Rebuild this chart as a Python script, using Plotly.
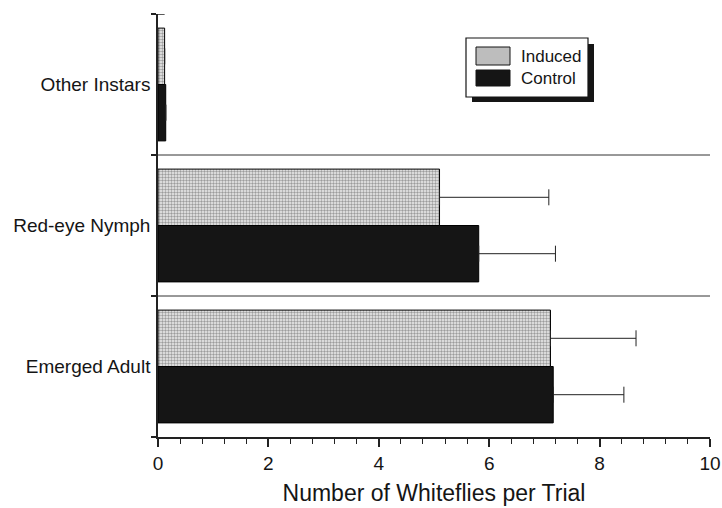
import plotly.graph_objects as go

# Whitefly counts per trial by developmental stage
stages = ["Emerged Adult", "Red-eye Nymph", "Other Instars"]
induced = [7.11, 5.10, 0.12]
induced_err = [1.55, 1.98, 0.0]
control = [7.16, 5.81, 0.14]
control_err = [1.28, 1.39, 0.0]
x_ticks = [0, 2, 4, 6, 8, 10]

FONT = "Liberation Sans, Arial, sans-serif"
INK = "#151515"
STIPPLE = dict(shape=".", fgcolor="#4a4a4a", bgcolor="#eeeeee", size=3, solidity=0.5)

# Plot area in pixels (used to place the hand-drawn legend box)
W, H = 722, 508
L, R, T, B = 158, 12, 14, 71
PW, PH = W - L - R, H - T - B


def px(xp):
    return (xp - L) / PW


def py(yp):
    return 1 - (yp - T) / PH


fig = go.Figure()

# Plotly stacks grouped horizontal bars bottom-up, so Control is added first
fig.add_trace(go.Bar(
    name="Control", y=stages, x=control, orientation="h",
    marker=dict(color=INK, line=dict(color="black", width=1)),
    error_x=dict(type="data", array=control_err, symmetric=False, arrayminus=[0, 0, 0],
                 color="#222222", thickness=1, width=8),
    showlegend=False,
))
fig.add_trace(go.Bar(
    name="Induced", y=stages, x=induced, orientation="h",
    marker=dict(color="#c8c8c8", pattern=STIPPLE, line=dict(color="black", width=1)),
    error_x=dict(type="data", array=induced_err, symmetric=False, arrayminus=[0, 0, 0],
                 color="#222222", thickness=1, width=8),
    showlegend=False,
))

# Separator lines between stages
for yb in [0.5, 1.5]:
    fig.add_shape(type="line", xref="paper", yref="y", x0=-0.012, x1=1.0,
                  y0=yb, y1=yb, line=dict(color="#333333", width=1), layer="below")

# Small cross tick at the top end of the value axis
fig.add_shape(type="line", xref="paper", yref="y", x0=-0.008, x1=0.012,
              y0=2.5, y1=2.5, line=dict(color="#222222", width=1.5))

# Legend: drop shadow, white box, swatches and labels
fig.add_shape(type="rect", xref="paper", yref="paper",
              x0=px(472), x1=px(594), y0=py(102), y1=py(44),
              fillcolor=INK, line=dict(width=0), layer="above")
fig.add_shape(type="rect", xref="paper", yref="paper",
              x0=px(466), x1=px(588), y0=py(97), y1=py(38),
              fillcolor="white", line=dict(color=INK, width=1.2), layer="above")
fig.add_shape(type="rect", xref="paper", yref="paper",
              x0=px(476), x1=px(510), y0=py(65), y1=py(47),
              fillcolor="#bdbdbd", line=dict(color=INK, width=1), layer="above")
fig.add_shape(type="rect", xref="paper", yref="paper",
              x0=px(476), x1=px(510), y0=py(86), y1=py(70),
              fillcolor=INK, line=dict(color=INK, width=1), layer="above")
for label, yc in [("Induced", 56), ("Control", 78)]:
    fig.add_annotation(text=label, xref="paper", yref="paper", x=px(519), y=py(yc),
                       xanchor="left", yanchor="middle", showarrow=False,
                       font=dict(family=FONT, size=17, color=INK))

fig.update_layout(
    width=W, height=H,
    margin=dict(l=L, r=R, t=T, b=B),
    paper_bgcolor="white", plot_bgcolor="white",
    barmode="group", bargap=0.2, bargroupgap=0.0,
    font=dict(family=FONT, color=INK, size=19),
    showlegend=False,
    xaxis=dict(
        range=[0, 10], tickvals=x_ticks, ticktext=[str(v) for v in x_ticks],
        automargin=False,
        showgrid=False, zeroline=False,
        showline=True, linecolor="#222222", linewidth=1.5,
        ticks="outside", ticklen=8, tickwidth=1.5, tickcolor="#222222",
        minor=dict(dtick=0.4, ticks="outside", ticklen=5, tickwidth=1, tickcolor="#222222"),
        tickfont=dict(family=FONT, size=19, color=INK),
        title=dict(text="Number of Whiteflies per Trial",
                   font=dict(family=FONT, size=23, color=INK), standoff=12),
    ),
    yaxis=dict(
        categoryorder="array", categoryarray=stages, range=[-0.5, 2.5],
        automargin=False,
        showgrid=False, zeroline=False,
        showline=True, linecolor="#222222", linewidth=1.5,
        ticks="outside", tickson="boundaries", ticklen=5, tickwidth=1.5, tickcolor="#222222",
        tickfont=dict(family=FONT, size=19, color=INK),
        ticklabelstandoff=2,
    ),
)

fig.write_html("out.html")
